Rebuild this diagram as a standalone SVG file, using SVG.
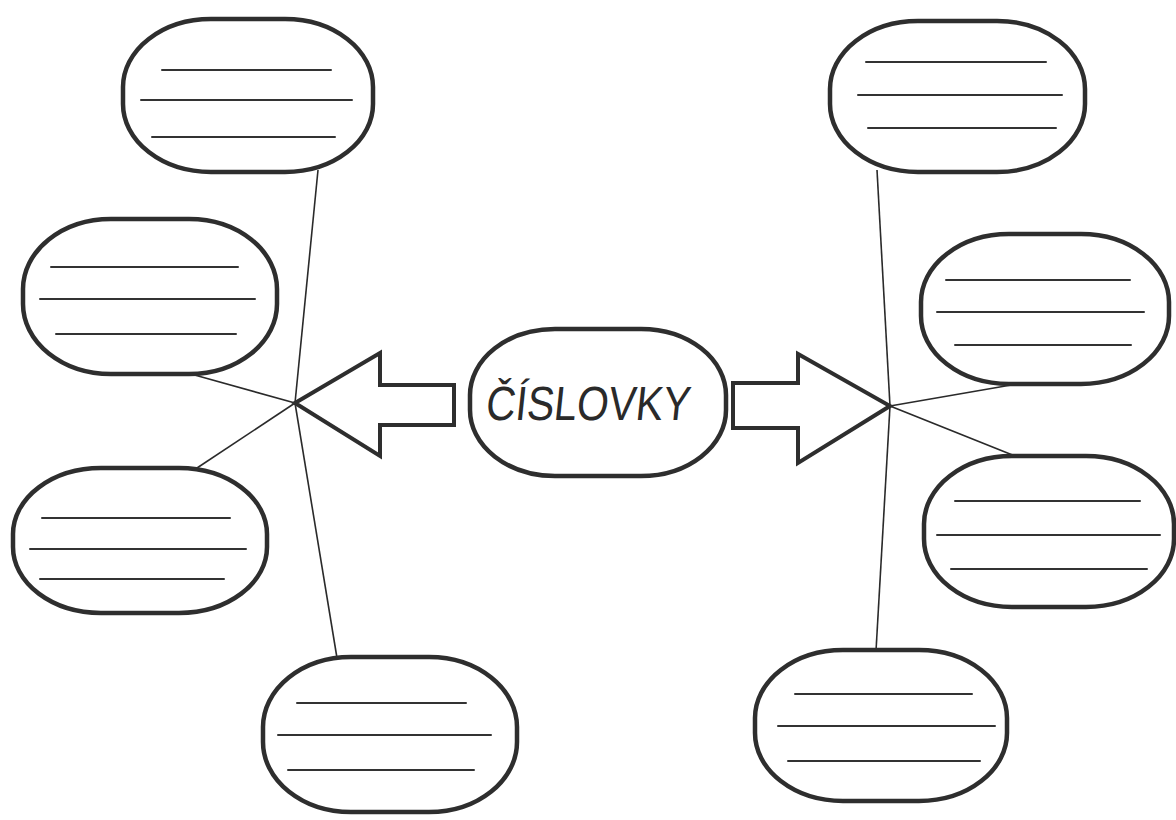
<svg xmlns="http://www.w3.org/2000/svg" width="1176" height="820" viewBox="0 0 1176 820">
  <style>
    .bubble { fill: #ffffff; stroke: #2e2e2e; stroke-width: 4.5; }
    .rule { stroke: #333333; stroke-width: 2; stroke-linecap: round; }
    .link { stroke: #2a2a2a; stroke-width: 1.6; fill: none; }
    .arrow { fill: #ffffff; stroke: #2e2e2e; stroke-width: 4; stroke-linejoin: miter; }
    .title { font-family: "Liberation Sans", "DejaVu Sans", sans-serif; font-size: 48px; fill: #2a2a2a; }
  </style>
  <rect x="0" y="0" width="1176" height="820" fill="#ffffff"/>

  <!-- connectors fanning out from the two hubs -->
  <g id="connectors">
    <line class="link" x1="318" y1="170" x2="295" y2="403"/>
    <line class="link" x1="295" y1="403" x2="337" y2="658"/>
    <line class="link" x1="191" y1="374" x2="295" y2="403"/>
    <line class="link" x1="197" y1="468" x2="295" y2="403"/>
    <line class="link" x1="877" y1="170" x2="890" y2="406"/>
    <line class="link" x1="890" y1="406" x2="876" y2="651"/>
    <line class="link" x1="890" y1="406" x2="1017" y2="384"/>
    <line class="link" x1="890" y1="406" x2="1015" y2="456"/>
  </g>

  <!-- block arrows -->
  <g id="arrow-left">
    <polygon class="arrow" points="295,403 380,353 380,385 454,385 454,425 380,425 380,456"/>
  </g>
  <g id="arrow-right">
    <polygon class="arrow" points="733,383 798,383 798,354 890,406 798,463 798,428 733,428"/>
  </g>

  <!-- central topic -->
  <g id="center">
    <rect class="bubble" x="470" y="329" width="256" height="147" rx="85" ry="66"/>
    <text class="title" x="485" y="420" textLength="204" lengthAdjust="spacingAndGlyphs" transform="skewX(-6) translate(44,0)">ČÍSLOVKY</text>
  </g>

  <!-- left bubbles -->
  <g id="left-1">
    <rect class="bubble" x="123" y="19" width="250" height="153" rx="88" ry="68"/>
    <line class="rule" x1="162" y1="70" x2="331" y2="70"/>
    <line class="rule" x1="141" y1="100" x2="352" y2="100"/>
    <line class="rule" x1="152" y1="137" x2="335" y2="137"/>
  </g>
  <g id="left-2">
    <rect class="bubble" x="23" y="219" width="254" height="155" rx="88" ry="70"/>
    <line class="rule" x1="51" y1="267" x2="238" y2="267"/>
    <line class="rule" x1="40" y1="299" x2="255" y2="299"/>
    <line class="rule" x1="56" y1="334" x2="236" y2="334"/>
  </g>
  <g id="left-3">
    <rect class="bubble" x="13" y="468" width="254" height="145" rx="88" ry="66"/>
    <line class="rule" x1="42" y1="518" x2="230" y2="518"/>
    <line class="rule" x1="30" y1="549" x2="246" y2="549"/>
    <line class="rule" x1="40" y1="579" x2="224" y2="579"/>
  </g>
  <g id="left-4">
    <rect class="bubble" x="263" y="657" width="254" height="155" rx="88" ry="70"/>
    <line class="rule" x1="297" y1="703" x2="466" y2="703"/>
    <line class="rule" x1="278" y1="735" x2="491" y2="735"/>
    <line class="rule" x1="288" y1="770" x2="474" y2="770"/>
  </g>

  <!-- right bubbles -->
  <g id="right-1">
    <rect class="bubble" x="830" y="21" width="255" height="151" rx="88" ry="68"/>
    <line class="rule" x1="866" y1="62" x2="1046" y2="62"/>
    <line class="rule" x1="858" y1="95" x2="1062" y2="95"/>
    <line class="rule" x1="868" y1="128" x2="1056" y2="128"/>
  </g>
  <g id="right-2">
    <rect class="bubble" x="921" y="234" width="248" height="150" rx="88" ry="68"/>
    <line class="rule" x1="946" y1="280" x2="1130" y2="280"/>
    <line class="rule" x1="937" y1="312" x2="1144" y2="312"/>
    <line class="rule" x1="955" y1="345" x2="1131" y2="345"/>
  </g>
  <g id="right-3">
    <rect class="bubble" x="924" y="456" width="250" height="151" rx="88" ry="68"/>
    <line class="rule" x1="955" y1="501" x2="1140" y2="501"/>
    <line class="rule" x1="937" y1="535" x2="1160" y2="535"/>
    <line class="rule" x1="951" y1="569" x2="1147" y2="569"/>
  </g>
  <g id="right-4">
    <rect class="bubble" x="755" y="650" width="252" height="151" rx="88" ry="68"/>
    <line class="rule" x1="795" y1="694" x2="972" y2="694"/>
    <line class="rule" x1="778" y1="726" x2="995" y2="726"/>
    <line class="rule" x1="788" y1="761" x2="980" y2="761"/>
  </g>
</svg>
